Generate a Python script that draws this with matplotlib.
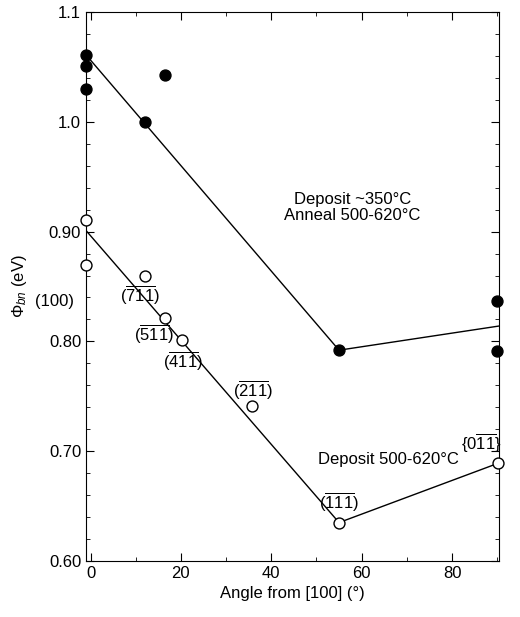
import matplotlib
matplotlib.use('Agg')
import matplotlib.pyplot as plt
from matplotlib.ticker import MultipleLocator, FixedLocator

plt.rcParams['font.family'] = ['Liberation Sans', 'DejaVu Sans']
plt.rcParams['mathtext.fontset'] = 'custom'
plt.rcParams['mathtext.rm'] = 'Liberation Sans'
plt.rcParams['mathtext.it'] = 'Liberation Sans:italic'

# annealed samples (filled)
ann_x = [-1, -1, -1, 12, 16.5, 55, 90, 90]
ann_y = [1.061, 1.051, 1.030, 1.000, 1.043, 0.792, 0.837, 0.791]
ann_fit_x = [-1, 55, 90.4]
ann_fit_y = [1.061, 0.792, 0.814]

# deposited hot (open)
dep_x = [-1, -1, 12, 16.5, 20.2, 35.7, 55, 90.2]
dep_y = [0.911, 0.870, 0.860, 0.821, 0.801, 0.741, 0.635, 0.689]
dep_fit_x = [-1, 55, 90.2]
dep_fit_y = [0.901, 0.635, 0.689]

# orientation labels
lab_txt = [r'(100)', r'$(\overline{7}\overline{1}\overline{1})$', r'$(\overline{5}\overline{1}\overline{1})$',
           r'$(\overline{4}\overline{1}\overline{1})$', r'$(\overline{2}\overline{1}\overline{1})$',
           r'$(\overline{1}\overline{1}\overline{1})$', r'$\{0\overline{1}\overline{1}\}$']
lab_x = [-8, 11, 14, 20.4, 35.9, 55, 86.5]
lab_y = [0.836, 0.842, 0.806, 0.782, 0.755, 0.653, 0.707]

fig = plt.figure(figsize=(5.2, 6.17), dpi=100)
ax = fig.add_axes([86/520, 56/617, 413/520, 549/617])

ax.plot(ann_fit_x, ann_fit_y, color='black', lw=1)
ax.plot(dep_fit_x, dep_fit_y, color='black', lw=1)
ax.scatter(ann_x, ann_y, s=62, color='black', zorder=3, clip_on=False)
ax.scatter(dep_x, dep_y, s=62, facecolor='white', edgecolor='black', lw=1, zorder=3, clip_on=False)

for t, x, y in zip(lab_txt, lab_x, lab_y):
    ax.text(x, y, t, ha='center', va='center', fontsize=12, clip_on=False)

ax.text(58, 0.922, 'Deposit ~350°C\nAnneal 500-620°C', ha='center', va='center', fontsize=12, linespacing=1.1)
ax.text(66, 0.692, 'Deposit 500-620°C', ha='center', va='center', fontsize=12)

ax.set_xlim(-1, 90.4)
ax.set_ylim(0.60, 1.10)
ax.xaxis.set_major_locator(FixedLocator([0, 20, 40, 60, 80]))
ax.xaxis.set_minor_locator(MultipleLocator(10))
ax.yaxis.set_major_locator(FixedLocator([0.6, 0.7, 0.8, 0.9, 1.0, 1.1]))
ax.set_yticklabels(['0.60', '0.70', '0.80', '0.90', '1.0', '1.1'])
ax.yaxis.set_minor_locator(MultipleLocator(0.02))
ax.tick_params(which='both', direction='in', top=True, right=True, labelsize=12)
ax.tick_params(which='major', length=6)
ax.tick_params(which='minor', length=3)
ax.set_xlabel('Angle from [100] (°)', fontsize=12)
ax.set_ylabel(r'$\Phi_{bn}$ (eV)', fontsize=12, labelpad=14)

fig.savefig('out.png', dpi=100)
